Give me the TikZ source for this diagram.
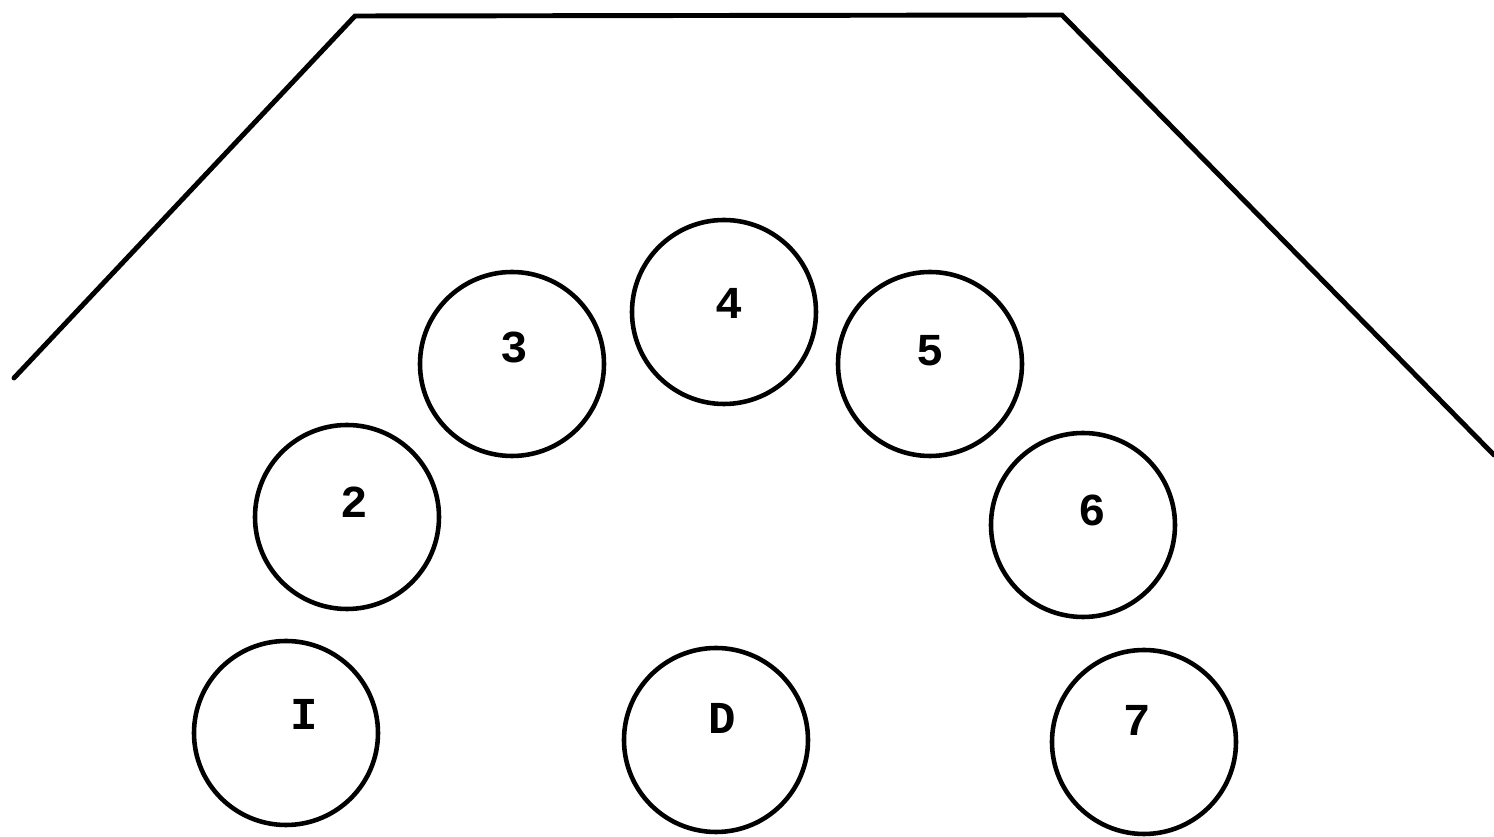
\documentclass[tikz,border=0pt]{standalone}
\usepackage{fontspec}
\newfontfamily\typefont{Liberation Mono}

\begin{document}
\begin{tikzpicture}[every node/.style={font=\typefont\bfseries\fontsize{13}{13}\selectfont},
    seat/.style={draw, circle, line width=1.3pt, minimum size=1.84cm, inner sep=0pt},
    num/.style={inner sep=0pt}]
    \useasboundingbox (0,0) rectangle (14.94,8.37);
    % walls
    \draw[line width=1.4pt, line cap=round]
      (0.14,4.59) -- (3.55,8.21) -- (10.62,8.22) -- (14.94,3.82);
    % seats
    \node[seat] (sI) at (2.86,1.04) {};
    \node[seat] (s2) at (3.47,3.20) {};
    \node[seat] (s3) at (5.12,4.73) {};
    \node[seat] (s4) at (7.24,5.25) {};
    \node[seat] (s5) at (9.30,4.73) {};
    \node[seat] (s6) at (10.83,3.12) {};
    \node[seat] (s7) at (11.44,0.95) {};
    \node[seat] (sD) at (7.16,0.97) {};
    % numbers
    \node[num] (nI) at (3.04,1.23) {I};
    \node[num] (n2) at (3.54,3.35) {2};
    \node[num] (n3) at (5.14,4.90) {3};
    \node[num] (n4) at (7.29,5.34) {4};
    \node[num] (n5) at (9.30,4.86) {5};
    \node[num] (n6) at (10.92,3.27) {6};
    \node[num] (n7) at (11.37,1.17) {7};
    \node[num] (nD) at (7.22,1.19) {D};
\end{tikzpicture}
\end{document}
